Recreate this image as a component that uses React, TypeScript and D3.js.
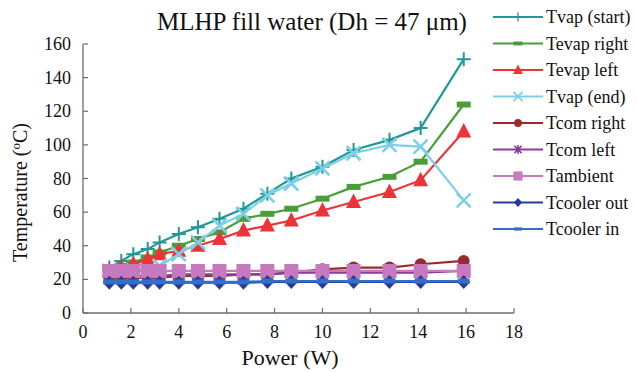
import React from "react";
import * as d3 from "d3";

const power = [1.1, 1.6, 2.1, 2.7, 3.2, 4.0, 4.8, 5.7, 6.7, 7.7, 8.7, 10.0, 11.3, 12.8, 14.1, 15.9];
const tvapStart = [27, 31, 35, 38, 42, 47, 51, 56, 62, 71, 80, 87, 97, 103, 110, 151];
const tevapRight = [26, 28, 30, 33, 36, 40, 44, 48, 56, 59, 62, 68, 75, 81, 90, 124];
const tevapLeft = [25, 27, 29, 32, 35, 37, 40, 44, 49, 52, 55, 61, 66, 72, 79, 108];
const tvapEnd = [25, 25, 25, 25, 28, 35, 42, 52, 59, 70, 77, 86, 95, 100, 99, 67];
const tcomRight = [21, 21, 21, 21, 21, 22, 22, 22, 23, 23, 24, 26, 27, 27, 29, 31];
const tcomLeft = [22, 22, 22, 22, 22, 23, 23, 23, 23, 23, 24, 24, 24, 24, 24, 25];
const tambient = [25, 25, 25, 25, 25, 25, 25, 25, 25, 25, 25, 25, 25, 25, 25, 25];
const tcoolerOut = [18, 18, 18, 18, 18, 18, 18, 18, 18, 18.5, 18.5, 18.5, 18.5, 18.5, 18.5, 18.5];
const tcoolerIn = [18.5, 18.5, 18.5, 18.5, 18.5, 18.5, 18.5, 18.5, 18.5, 19, 19, 19, 19, 19, 19, 19];

const xTicks = [0, 2, 4, 6, 8, 10, 12, 14, 16, 18];
const yTicks = [0, 20, 40, 60, 80, 100, 120, 140, 160];

type Series = { name: string; values: number[]; color: string; marker: string };
const series: Series[] = [
  { name: "Tvap (start)", values: tvapStart, color: "#1f9896", marker: "plus" },
  { name: "Tevap right", values: tevapRight, color: "#4a9e3a", marker: "dash" },
  { name: "Tevap left", values: tevapLeft, color: "#ee3338", marker: "triangle" },
  { name: "Tvap (end)", values: tvapEnd, color: "#7ccfe6", marker: "x" },
  { name: "Tcom right", values: tcomRight, color: "#9a2a2e", marker: "circle" },
  { name: "Tcom left", values: tcomLeft, color: "#8a3d9a", marker: "star" },
  { name: "Tambient", values: tambient, color: "#c679bd", marker: "square" },
  { name: "Tcooler out", values: tcoolerOut, color: "#2b3a98", marker: "diamond" },
  { name: "Tcooler in", values: tcoolerIn, color: "#3070c8", marker: "dash2" },
];

const FONT = "'Liberation Serif', 'Times New Roman', serif";

function Marker({ type, color, x, y, s = 1 }: { type: string; color: string; x: number; y: number; s?: number }) {
  const t = `translate(${x},${y}) scale(${s})`;
  switch (type) {
    case "plus":
      return <path transform={t} d="M-7,0H7M0,-7V7" stroke={color} strokeWidth={2} fill="none" />;
    case "dash":
      return <rect transform={t} x={-7} y={-3} width={14} height={6} fill={color} />;
    case "dash2":
      return <rect transform={t} x={-6} y={-2.5} width={12} height={5} fill={color} />;
    case "triangle":
      return <path transform={t} d="M0,-8.5L7.5,6L-7.5,6Z" fill={color} />;
    case "x":
      return <path transform={t} d="M-7,-7L7,7M-7,7L7,-7" stroke={color} strokeWidth={2.6} fill="none" />;
    case "circle":
      return <circle transform={t} r={6} fill={color} />;
    case "star":
      return <path transform={t} d="M-5.5,-5.5L5.5,5.5M-5.5,5.5L5.5,-5.5M0,-7V7" stroke={color} strokeWidth={2.4} fill="none" />;
    case "square":
      return <rect transform={t} x={-7} y={-7} width={14} height={14} fill={color} />;
    case "diamond":
      return <path transform={t} d="M0,-7L6.5,0L0,7L-6.5,0Z" fill={color} />;
    default:
      return null;
  }
}

export default function App() {
  const W = 637, H = 372;
  const x = d3.scaleLinear().domain([0, 18]).range([83, 514]);
  const y = d3.scaleLinear().domain([0, 160]).range([313, 44]);
  const line = d3.line<[number, number]>().x((d) => x(d[0])).y((d) => y(d[1]));
  const axisColor = "#6e6e6e";

  return (
    <svg width={W} height={H} style={{ position: "absolute", left: 0, top: 0, background: "#fff" }} fontFamily={FONT}>
      <rect width={W} height={H} fill="#fff" />
      <text x={312} y={30} fontSize={25} textAnchor="middle" fill="#111">
        MLHP fill water (Dh = 47 μm)
      </text>
      <line x1={x(0)} x2={x(0)} y1={y(160)} y2={y(0)} stroke={axisColor} strokeWidth={1.3} />
      <line x1={x(0)} x2={x(18)} y1={y(0)} y2={y(0)} stroke={axisColor} strokeWidth={1.3} />
      {yTicks.map((t) => (
        <g key={"y" + t}>
          <line x1={x(0)} x2={x(0) + 5} y1={y(t)} y2={y(t)} stroke={axisColor} strokeWidth={1.2} />
          <text x={x(0) - 12} y={y(t) + 6} fontSize={18} textAnchor="end" fill="#111">{t}</text>
        </g>
      ))}
      {xTicks.map((t) => (
        <g key={"x" + t}>
          <line x1={x(t)} x2={x(t)} y1={y(0)} y2={y(0) - 5} stroke={axisColor} strokeWidth={1.2} />
          <text x={x(t)} y={y(0) + 25} fontSize={18} textAnchor="middle" fill="#111">{t}</text>
        </g>
      ))}
      <text x={290} y={365} fontSize={22} textAnchor="middle" fill="#111">Power (W)</text>
      <text transform={`translate(27,262) rotate(-90)`} fontSize={20} fill="#111">
        Temperature (<tspan dy={-7} fontSize={13}>o</tspan><tspan dy={7}>C)</tspan>
      </text>
      {series.map((s) => {
        const pts = power.map((p, i) => [p, s.values[i]] as [number, number]);
        return (
          <g key={s.name}>
            <path d={line(pts) || ""} fill="none" stroke={s.color} strokeWidth={2.2} />
            {pts.map((p, i) => (
              <Marker key={i} type={s.marker} color={s.color} x={x(p[0])} y={y(p[1])} />
            ))}
          </g>
        );
      })}
      {series.map((s, i) => {
        const ly = 17 + i * 26.5;
        return (
          <g key={"l" + s.name}>
            <line x1={493} x2={543} y1={ly} y2={ly} stroke={s.color} strokeWidth={2.2} />
            <Marker type={s.marker} color={s.color} x={518} y={ly} s={0.65} />
            <text x={546} y={ly + 6} fontSize={18} fill="#111">{s.name}</text>
          </g>
        );
      })}
    </svg>
  );
}
